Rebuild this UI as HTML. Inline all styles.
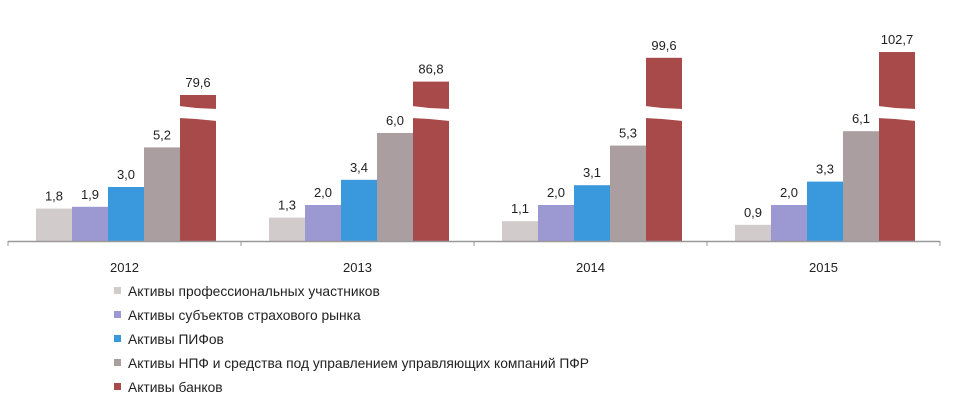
<!DOCTYPE html>
<html><head><meta charset="utf-8"><style>
html,body{margin:0;padding:0;background:#fff;width:956px;height:407px;overflow:hidden}
svg text{font-family:"Liberation Sans","DejaVu Sans",sans-serif;fill:#222}
</style></head><body>
<svg id="chart" width="956" height="407" viewBox="0 0 956 407" xmlns="http://www.w3.org/2000/svg"></svg>
<script>
const years = ["2012","2013","2014","2015"];
const profParticipants = [1.8,1.3,1.1,0.9];
const insurance = [1.9,2.0,2.0,2.0];
const pifs = [3.0,3.4,3.1,3.3];
const npf = [5.2,6.0,5.3,6.1];
const banks = [79.6,86.8,99.6,102.7];
const seriesNames = ["Активы профессиональных участников","Активы субъектов страхового рынка","Активы ПИФов","Активы НПФ и средства под управлением управляющих компаний ПФР","Активы банков"];
const colors = ["#d2cbcb","#9c98d2","#3a98dc","#aa9ea0","#a84a4a"];
const seriesKeys = ["prof","insurance","pifs","npf","banks"];

const svg = document.getElementById('chart');
const NS = "http://www.w3.org/2000/svg";
const base = 241, left = 8, groupW = 233, barW = 36, groupOff = 28;
function y(v){ return base - v*18; }
function yBank(v){ return base - (146 + (v-79.6)*1.86); }
function mk(tag, attrs){ const e=document.createElementNS(NS,tag); for(const k in attrs) e.setAttribute(k,attrs[k]); svg.appendChild(e); return e; }
function fmt(v){ return v.toFixed(1).replace('.',','); }

const all = [profParticipants,insurance,pifs,npf,banks];
years.forEach((yr,gi)=>{
  all.forEach((arr,si)=>{
    const v = arr[gi];
    const x = left + gi*groupW + groupOff + si*barW;
    const top = si===4 ? yBank(v) : y(v);
    const r = mk('rect',{x:x,y:top,width:barW,height:base-top,fill:colors[si]});
    
    
    if(si===4){
      const g = mk('polygon',{points:`${x-1},106 ${x+barW*0.45},108 ${x+barW+1},109 ${x+barW+1},121 ${x+barW*0.45},119 ${x-1},118`,fill:'#fff'});
      
      
    }
    const t = mk('text',{x:x+barW/2,y:top-8,'text-anchor':'middle','font-size':'13'});
    t.textContent = fmt(v);
    
    
  });
  const lab = mk('text',{x:left+gi*groupW+groupW/2,y:272,'text-anchor':'middle','font-size':'13'});
  lab.textContent = yr;
  
  
});
const ax = mk('line',{x1:left,y1:base+0.5,x2:left+groupW*4,y2:base+0.5,stroke:'#999','stroke-width':1.5});


for(let i=0;i<=4;i++){
  const tk = mk('line',{x1:left+i*groupW,y1:base,x2:left+i*groupW,y2:base+5,stroke:'#999'});
  
  
}
seriesNames.forEach((n,i)=>{
  const cy = 291 + i*24;
  const sq = mk('rect',{x:114,y:cy-4,width:7,height:7,fill:colors[i]});
  
  
  const t = mk('text',{x:128,y:cy+5,'font-size':'13.8'});
  t.textContent = n;
  
  
});
</script>
</body></html>
